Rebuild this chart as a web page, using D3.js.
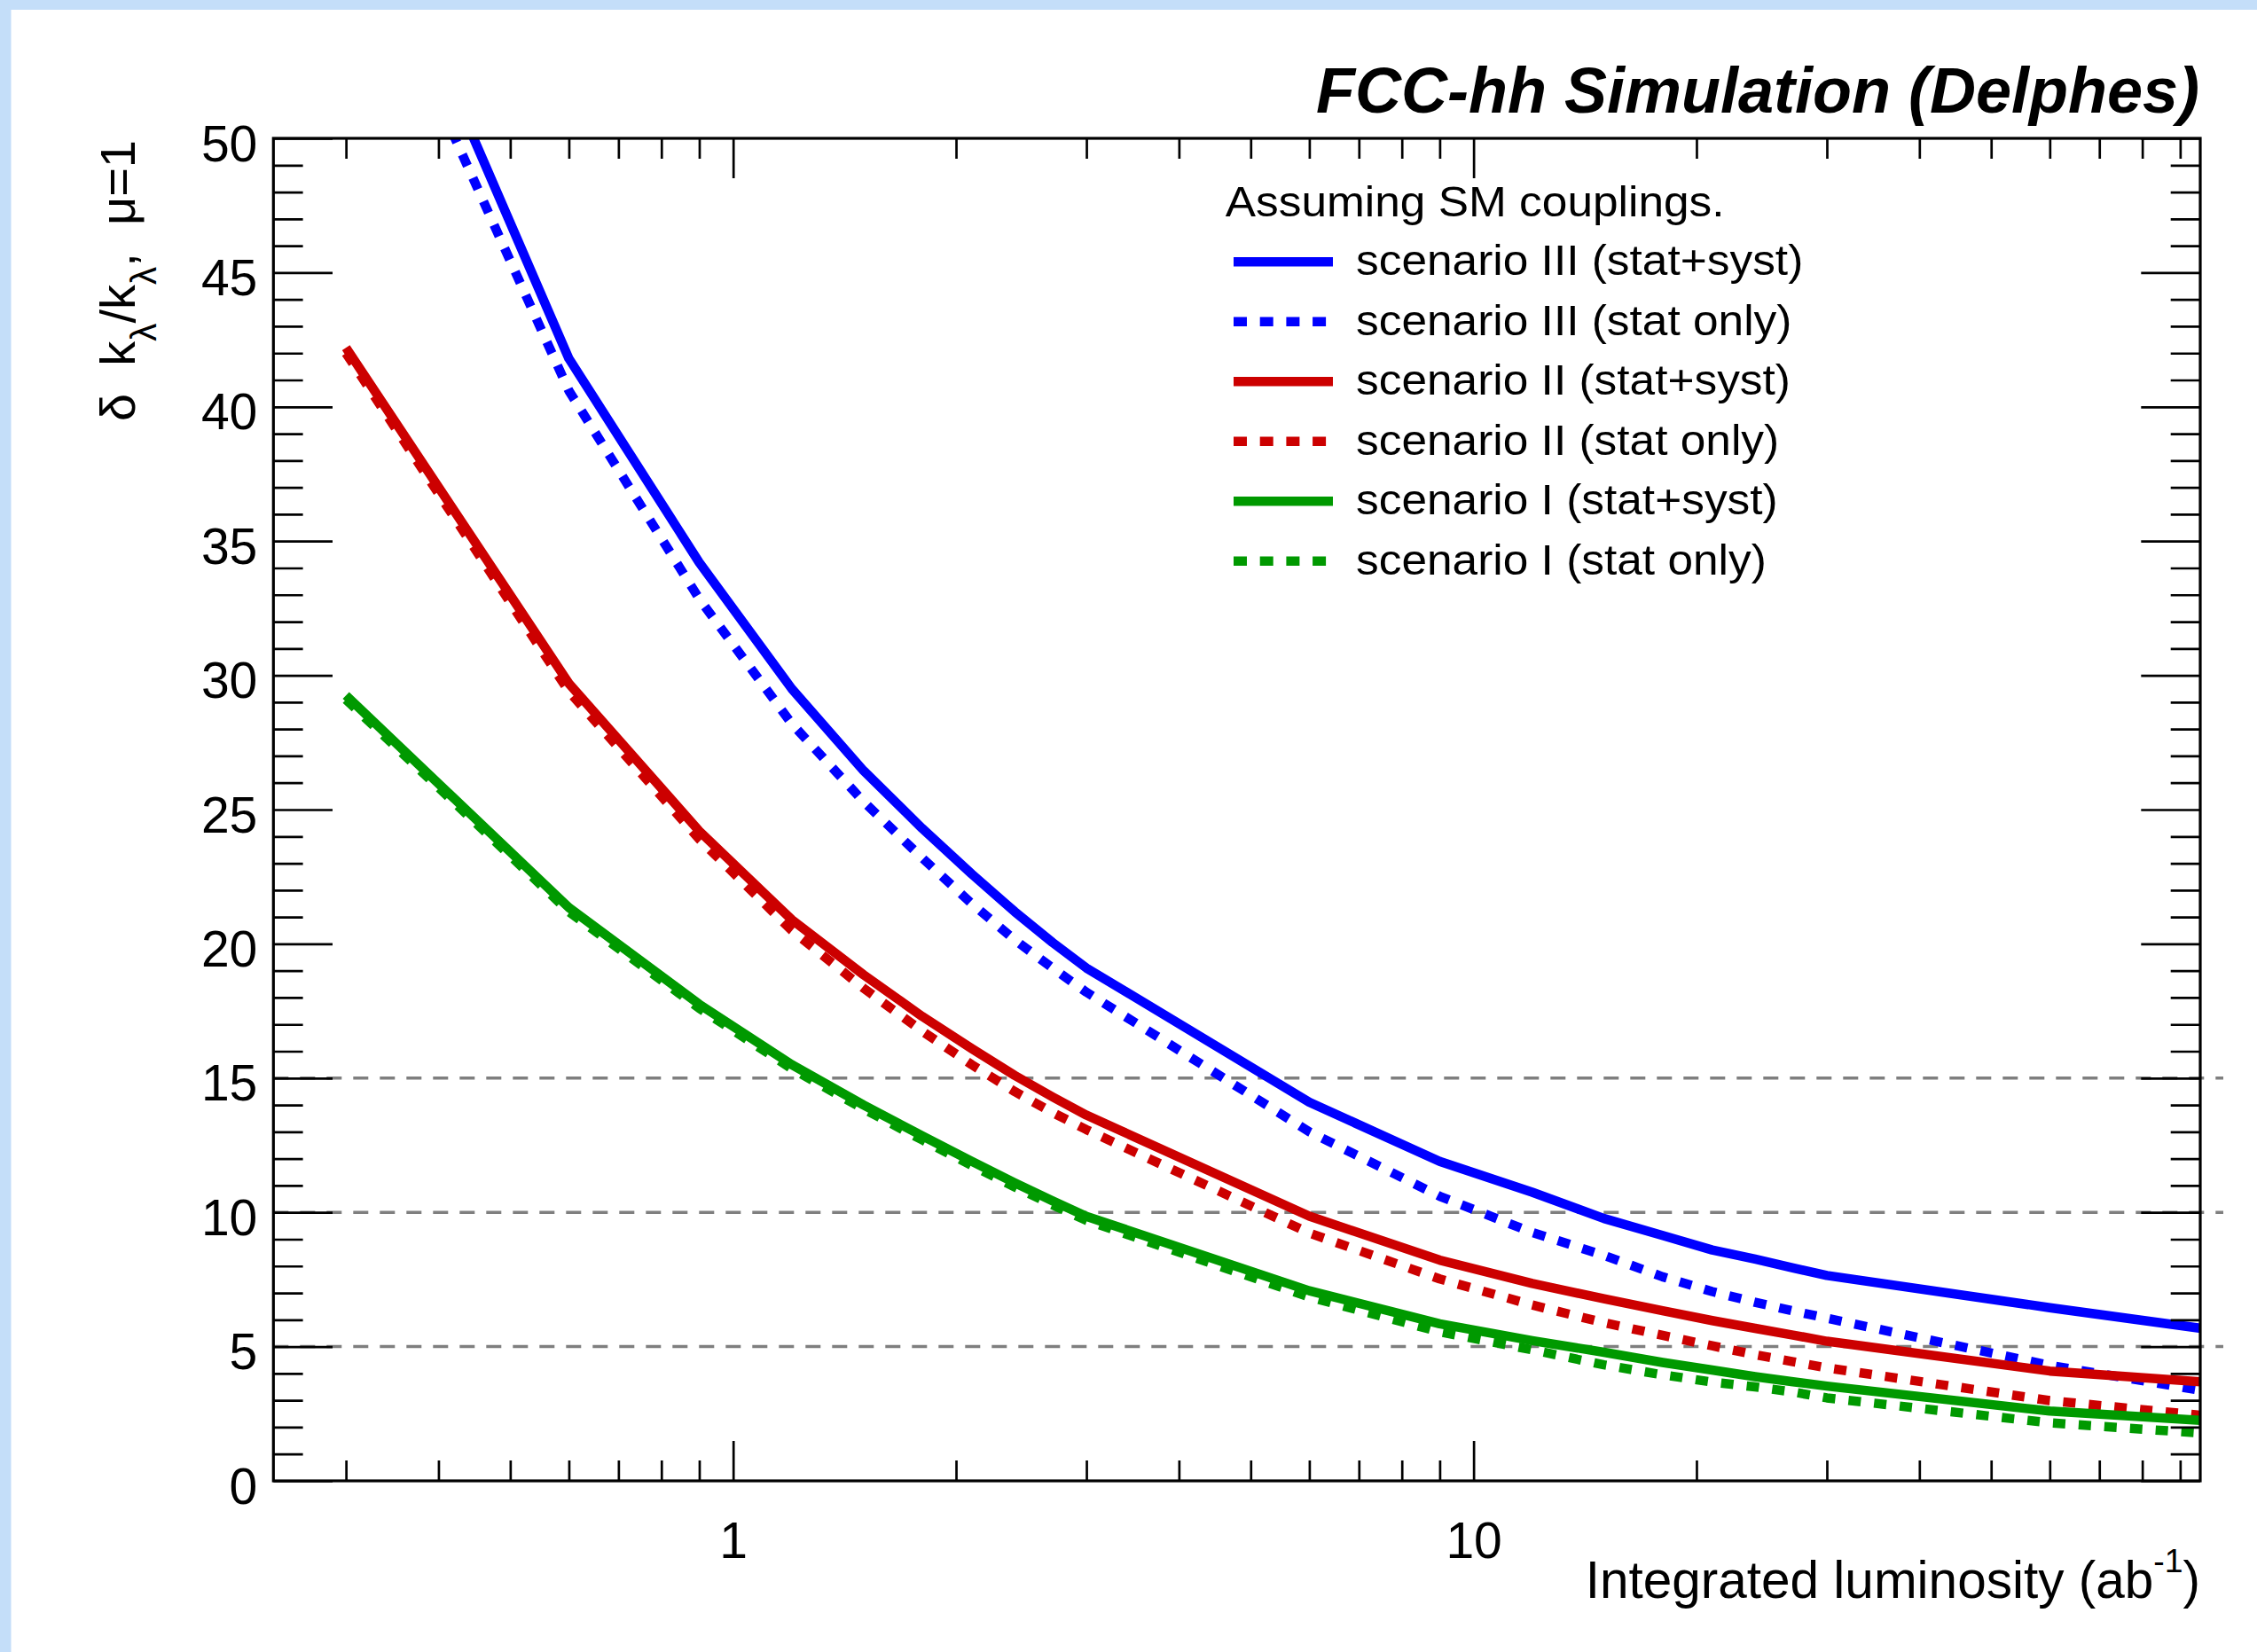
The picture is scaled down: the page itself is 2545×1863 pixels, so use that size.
<!DOCTYPE html>
<html><head><meta charset="utf-8">
<script src="https://cdn.jsdelivr.net/npm/d3@7"></script>
<style>
html,body{margin:0;padding:0;background:#fff;}
svg{display:block;}
text{font-family:"Liberation Sans",Arial,Helvetica,sans-serif;fill:#000;}
</style></head><body>
<svg id="chart" width="2545" height="1863"></svg>
<script>
// ---------------- data ----------------
const lumi = [0.3,0.6,0.9,1.2,1.5,1.8,2.1,2.4,2.7,3,6,9,12,15,18,21,24,27,30,60,96];
const scen3StatSyst = [61.0,41.8,34.2,29.5,26.45,24.3,22.6,21.2,20.05,19.1,14.1,11.9,10.75,9.77,9.14,8.6,8.26,7.93,7.65,6.45,5.68];
const scen3StatOnly = [59.0,40.6,32.85,28.2,25.3,23.2,21.5,20.15,19.1,18.2,13.0,10.6,9.25,8.4,7.6,7.05,6.65,6.33,6.06,4.3,3.37];
const scen2StatSyst = [42.2,29.7,24.2,20.9,18.85,17.3,16.1,15.1,14.3,13.62,9.86,8.22,7.35,6.78,6.34,5.97,5.68,5.43,5.2,4.09,3.69];
const scen2StatOnly = [42.0,29.4,23.9,20.5,18.35,16.75,15.5,14.5,13.72,13.08,9.23,7.52,6.55,5.89,5.42,5.03,4.7,4.44,4.21,2.99,2.44];
const scen1StatSyst = [29.25,21.35,17.75,15.5,14.0,12.85,11.9,11.1,10.43,9.85,7.08,5.85,5.22,4.79,4.41,4.13,3.88,3.69,3.53,2.60,2.25];
const scen1StatOnly = [29.1,21.2,17.6,15.35,13.85,12.7,11.75,10.95,10.28,9.7,6.85,5.55,4.88,4.32,3.95,3.68,3.50,3.31,3.09,2.16,1.78];
const seriesNames = ["scenario III (stat+syst)","scenario III (stat only)","scenario II (stat+syst)","scenario II (stat only)","scenario I (stat+syst)","scenario I (stat only)"];
const seriesValues = [scen3StatSyst,scen3StatOnly,scen2StatSyst,scen2StatOnly,scen1StatSyst,scen1StatOnly];
const seriesColors = ["#0000ff","#0000ff","#cc0000","#cc0000","#009900","#009900"];
const seriesDotted = [false,true,false,true,false,true];
const refLines = [5,10,15];
const xMajorTicks = [1,10];
const yMajorTicks = [0,5,10,15,20,25,30,35,40,45,50];
const titleText = "FCC-hh Simulation (Delphes)";
const legendHeader = "Assuming SM couplings.";

// ---------------- layout ----------------
const svg = d3.select("#chart");
const M = {left:308.3, right:2481, top:156, bottom:1670};
const x = d3.scaleLog().domain([0.2394, 95.8]).range([M.left, M.right]);
const y = d3.scaleLinear().domain([0, 50]).range([M.bottom, M.top]);

svg.append("rect").attr("width",2545).attr("height",1863).attr("fill","#fff");
svg.append("rect").attr("x",0).attr("y",0).attr("width",2545).attr("height",11).attr("fill","#c4def9");
svg.append("rect").attr("x",0).attr("y",0).attr("width",12.5).attr("height",1863).attr("fill","#c4def9");

svg.append("defs").append("clipPath").attr("id","frameClip")
  .append("rect").attr("x",M.left).attr("y",M.top).attr("width",M.right-M.left).attr("height",M.bottom-M.top);

// reference dashed lines
svg.append("g").selectAll("line").data(refLines).join("line")
  .attr("x1",M.left).attr("x2",2507)
  .attr("y1",d=>y(d)).attr("y2",d=>y(d))
  .attr("stroke","#7f7f7f").attr("stroke-width",3.5).attr("stroke-dasharray","17,13");

// curves
const line = d3.line().x(d=>x(d[0])).y(d=>y(d[1]));
const curves = svg.append("g").attr("clip-path","url(#frameClip)");
seriesValues.forEach((vals,i)=>{
  curves.append("path")
    .datum(lumi.map((l,j)=>[l,vals[j]]))
    .attr("d",line).attr("fill","none")
    .attr("stroke",seriesColors[i]).attr("stroke-width",10.5)
    .attr("stroke-linejoin","round")
    .attr("stroke-dasharray",seriesDotted[i]?"14,15":null);
});

// axes
const tickW = 2.7;
function styleAxis(g){ g.select(".domain").remove(); g.selectAll(".tick line").attr("stroke","#000").attr("stroke-width",tickW); }
const xMinor = x.ticks().filter(v=>!xMajorTicks.includes(v));
const yMinor = y.ticks(50).filter(v=>!yMajorTicks.includes(v));

const gB = svg.append("g").attr("transform",`translate(0,${M.bottom})`)
  .call(d3.axisBottom(x).tickValues(xMajorTicks).tickFormat(d3.format("d")).tickSizeInner(-45).tickSizeOuter(0).tickPadding(47));
styleAxis(gB);
gB.selectAll("text").attr("font-size",57).attr("font-family","Liberation Sans, Arial, sans-serif").attr("fill","#000");
svg.append("g").attr("transform",`translate(0,${M.bottom})`)
  .call(d3.axisBottom(x).tickValues(xMinor).tickFormat("").tickSizeInner(-23).tickSizeOuter(0)).call(styleAxis);
svg.append("g").attr("transform",`translate(0,${M.top})`)
  .call(d3.axisTop(x).tickValues(xMajorTicks).tickFormat("").tickSizeInner(-45).tickSizeOuter(0)).call(styleAxis);
svg.append("g").attr("transform",`translate(0,${M.top})`)
  .call(d3.axisTop(x).tickValues(xMinor).tickFormat("").tickSizeInner(-23).tickSizeOuter(0)).call(styleAxis);

const gL = svg.append("g").attr("transform",`translate(${M.left},0)`)
  .call(d3.axisLeft(y).tickValues(yMajorTicks).tickFormat(d3.format("d")).tickSizeInner(-66.7).tickSizeOuter(0).tickPadding(18));
styleAxis(gL);
gL.selectAll("text").attr("font-size",57).attr("font-family","Liberation Sans, Arial, sans-serif").attr("fill","#000").attr("dy","0.44em");
svg.append("g").attr("transform",`translate(${M.left},0)`)
  .call(d3.axisLeft(y).tickValues(yMinor).tickFormat("").tickSizeInner(-33.3).tickSizeOuter(0)).call(styleAxis);
svg.append("g").attr("transform",`translate(${M.right},0)`)
  .call(d3.axisRight(y).tickValues(yMajorTicks).tickFormat("").tickSizeInner(-66.7).tickSizeOuter(0)).call(styleAxis);
svg.append("g").attr("transform",`translate(${M.right},0)`)
  .call(d3.axisRight(y).tickValues(yMinor).tickFormat("").tickSizeInner(-33.3).tickSizeOuter(0)).call(styleAxis);

// frame
svg.append("rect").attr("x",M.left).attr("y",M.top).attr("width",M.right-M.left).attr("height",M.bottom-M.top)
  .attr("fill","none").attr("stroke","#000").attr("stroke-width",3.2);

// title
svg.append("text").attr("x",2480).attr("y",127).attr("text-anchor","end")
  .attr("font-size",72).attr("font-weight","bold").attr("font-style","italic").text(titleText);

// x axis title
const xt = svg.append("text").attr("x",2481).attr("y",1802).attr("text-anchor","end").attr("font-size",58.5);
xt.append("tspan").text("Integrated luminosity (ab");
xt.append("tspan").attr("font-size","0.64em").attr("dy","-0.78em").text("-1");
xt.append("tspan").attr("dy","0.5em").text(")");

// y axis title
const yt = svg.append("text").attr("transform","translate(151.7,158) rotate(-90)")
  .attr("text-anchor","end").attr("font-size",56).style("white-space","pre");
yt.append("tspan").text("δ  k");
yt.append("tspan").attr("font-size","0.72em").attr("dy","0.6em").text("λ");
yt.append("tspan").attr("dy","-0.432em").text("/k");
yt.append("tspan").attr("font-size","0.72em").attr("dy","0.6em").text("λ");
yt.append("tspan").attr("dy","-0.432em").text(",  μ=1");

// legend
const stretch = 1.06;
const legFs = 48.5;
const hdr = svg.append("text").attr("x",1381.7).attr("y",244).attr("font-size",legFs).text(legendHeader);
hdr.attr("textLength",hdr.node().getComputedTextLength()*stretch).attr("lengthAdjust","spacingAndGlyphs");
const legend = svg.append("g");
seriesNames.forEach((name,i)=>{
  const cy = 295.3 + i*67.5;
  legend.append("line").attr("x1",1391).attr("x2",1503).attr("y1",cy).attr("y2",cy)
    .attr("stroke",seriesColors[i]).attr("stroke-width",10.5)
    .attr("stroke-dasharray",seriesDotted[i]?"15,14.7":null);
  const t = legend.append("text").attr("x",1529).attr("y",cy+15).attr("font-size",legFs).text(name);
  t.attr("textLength",t.node().getComputedTextLength()*stretch).attr("lengthAdjust","spacingAndGlyphs");
});
</script>
</body></html>
